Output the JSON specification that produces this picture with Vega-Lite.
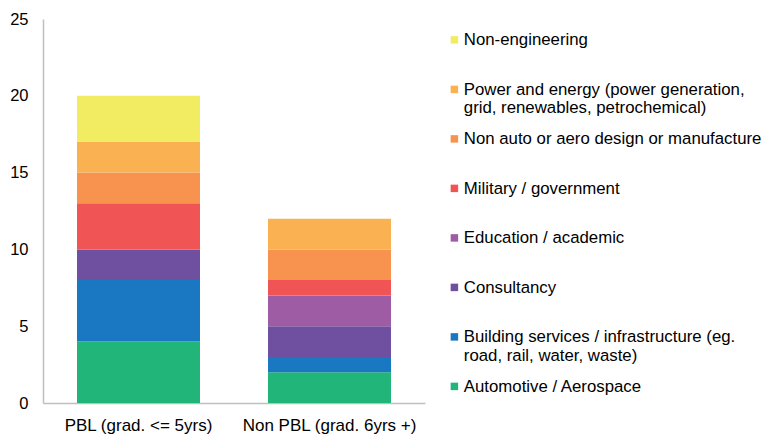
{
  "$schema": "https://vega.github.io/schema/vega-lite/v6.json",
  "autosize": {"type": "none"},
  "padding": {"left": 43, "top": 19, "right": 340, "bottom": 31},
  "width": 382,
  "height": 384,
  "background": "white",
  "config": {
    "view": {"stroke": null},
    "font": "Liberation Sans"
  },
  "data": {
    "values": [
      {"group": "PBL (grad. <= 5yrs)", "category": "Automotive / Aerospace", "rank": 1, "value": 4},
      {"group": "PBL (grad. <= 5yrs)", "category": "Building services / infrastructure (eg. road, rail, water, waste)", "rank": 2, "value": 4},
      {"group": "PBL (grad. <= 5yrs)", "category": "Consultancy", "rank": 3, "value": 2},
      {"group": "PBL (grad. <= 5yrs)", "category": "Education / academic", "rank": 4, "value": 0},
      {"group": "PBL (grad. <= 5yrs)", "category": "Military / government", "rank": 5, "value": 3},
      {"group": "PBL (grad. <= 5yrs)", "category": "Non auto or aero design or manufacture", "rank": 6, "value": 2},
      {"group": "PBL (grad. <= 5yrs)", "category": "Power and energy (power generation, grid, renewables, petrochemical)", "rank": 7, "value": 2},
      {"group": "PBL (grad. <= 5yrs)", "category": "Non-engineering", "rank": 8, "value": 3},
      {"group": "Non PBL (grad. 6yrs +)", "category": "Automotive / Aerospace", "rank": 1, "value": 2},
      {"group": "Non PBL (grad. 6yrs +)", "category": "Building services / infrastructure (eg. road, rail, water, waste)", "rank": 2, "value": 1},
      {"group": "Non PBL (grad. 6yrs +)", "category": "Consultancy", "rank": 3, "value": 2},
      {"group": "Non PBL (grad. 6yrs +)", "category": "Education / academic", "rank": 4, "value": 2},
      {"group": "Non PBL (grad. 6yrs +)", "category": "Military / government", "rank": 5, "value": 1},
      {"group": "Non PBL (grad. 6yrs +)", "category": "Non auto or aero design or manufacture", "rank": 6, "value": 2},
      {"group": "Non PBL (grad. 6yrs +)", "category": "Power and energy (power generation, grid, renewables, petrochemical)", "rank": 7, "value": 2},
      {"group": "Non PBL (grad. 6yrs +)", "category": "Non-engineering", "rank": 8, "value": 0}
    ]
  },
  "mark": {"type": "bar"},
  "encoding": {
    "x": {
      "field": "group",
      "type": "nominal",
      "sort": ["PBL (grad. <= 5yrs)", "Non PBL (grad. 6yrs +)"],
      "scale": {"paddingInner": 0.356, "paddingOuter": 0.178},
      "axis": {
        "title": null,
        "labelAngle": 0,
        "ticks": false,
        "tickSize": 0,
        "labelPadding": 14,
        "labelFontSize": 17,
        "labelColor": "#000000",
        "labelFont": "Liberation Sans",
        "domainColor": "#BFBFBF",
        "domainWidth": 1.5,
        "grid": false
      }
    },
    "y": {
      "field": "value",
      "type": "quantitative",
      "stack": "zero",
      "scale": {"domain": [0, 25], "nice": false},
      "axis": {
        "title": null,
        "values": [0, 5, 10, 15, 20, 25],
        "ticks": false,
        "tickSize": 0,
        "labelPadding": 15,
        "labelFontSize": 16.5,
        "labelColor": "#000000",
        "labelFont": "Liberation Sans",
        "domainColor": "#BFBFBF",
        "domainWidth": 1.5,
        "grid": false
      }
    },
    "order": {"field": "rank", "type": "quantitative", "sort": "ascending"},
    "color": {
      "field": "category",
      "type": "nominal",
      "scale": {
        "domain": [
          "Non-engineering",
          "Power and energy (power generation, grid, renewables, petrochemical)",
          "Non auto or aero design or manufacture",
          "Military / government",
          "Education / academic",
          "Consultancy",
          "Building services / infrastructure (eg. road, rail, water, waste)",
          "Automotive / Aerospace"
        ],
        "range": ["#F2EC63", "#F9B152", "#F7934E", "#F15455", "#9E5CA5", "#6F4F9F", "#1A78C2", "#21B57A"]
      },
      "legend": {
        "title": null,
        "orient": "none",
        "legendX": 403,
        "legendY": 12.5,
        "padding": 0,
        "symbolType": "square",
        "symbolSize": 56,
        "symbolStrokeWidth": 0,
        "labelFontSize": 16.8,
        "labelFont": "Liberation Sans",
        "labelColor": "#000000",
        "labelOffset": 1,
        "labelLimit": 400,
        "labelBaseline": "alphabetic",
        "rowPadding": 12.5,
        "labelExpr": "datum.label == 'Power and energy (power generation, grid, renewables, petrochemical)' ? ['Power and energy (power generation,', 'grid, renewables, petrochemical)'] : datum.label == 'Building services / infrastructure (eg. road, rail, water, waste)' ? ['Building services / infrastructure (eg.', 'road, rail, water, waste)'] : [datum.label, '']",
        "encode": {
          "labels": {"update": {"dy": {"value": 5.5}, "lineHeight": {"value": 18.5}}}
        }
      }
    }
  }
}
